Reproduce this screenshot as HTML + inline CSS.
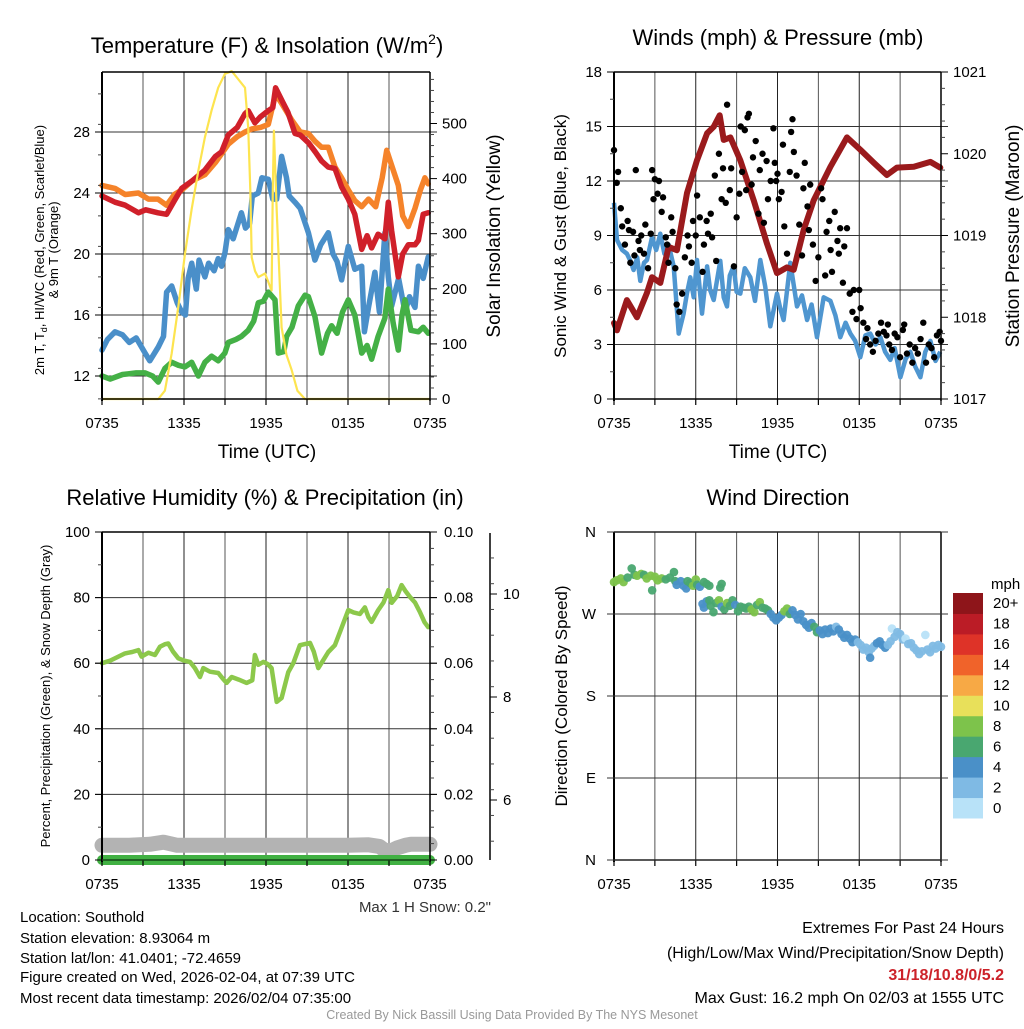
<!DOCTYPE html>
<html><head><meta charset="utf-8">
<style>
html,body{margin:0;padding:0;background:#fff;}
body{width:1024px;height:1024px;overflow:hidden;font-family:"Liberation Sans",sans-serif;}
svg text{font-family:"Liberation Sans",sans-serif;}
</style></head>
<body>
<svg id="chart" width="1024" height="1024" viewBox="0 0 1024 1024" xmlns="http://www.w3.org/2000/svg">
<g>
<text x="267" y="53" font-size="22" text-anchor="middle">Temperature (F) &amp; Insolation (W/m<tspan font-size="14" dy="-9">2</tspan><tspan dy="9">)</tspan></text>
<text transform="translate(44,250) rotate(-90)" font-size="13" text-anchor="middle">2m T, T<tspan font-size="9" dy="3">d</tspan><tspan dy="-3">, HI/WC (Red, Green, Scarlet/Blue)</tspan></text>
<text transform="translate(58,250) rotate(-90)" font-size="13" text-anchor="middle">&amp; 9m T (Orange)</text>
<text transform="translate(500,236) rotate(-90)" font-size="19" text-anchor="middle">Solar Insolation (Yellow)</text>
<text x="267" y="458" font-size="19" text-anchor="middle">Time (UTC)</text>
</g>
<g>
<text x="778" y="45" font-size="22" text-anchor="middle">Winds (mph) &amp; Pressure (mb)</text>
<text transform="translate(566,236) rotate(-90)" font-size="17" text-anchor="middle">Sonic Wind &amp; Gust (Blue, Black)</text>
<text transform="translate(1019,236) rotate(-90)" font-size="19" text-anchor="middle">Station Pressure (Maroon)</text>
<text x="778" y="458" font-size="19" text-anchor="middle">Time (UTC)</text>
</g>
<g>
<text x="265" y="505" font-size="22" text-anchor="middle">Relative Humidity (%) &amp; Precipitation (in)</text>
<text transform="translate(50,696) rotate(-90)" font-size="13" text-anchor="middle">Percent, Precipitation (Green), &amp; Snow Depth (Gray)</text>
<text x="491" y="912" font-size="15" text-anchor="end" fill="#333">Max 1 H Snow: 0.2"</text>
</g>
<g>
<text x="778" y="505" font-size="22" text-anchor="middle">Wind Direction</text>
<text transform="translate(567,696) rotate(-90)" font-size="17" text-anchor="middle">Direction (Colored By Speed)</text>
<text x="991" y="589" font-size="15">mph</text>
</g>
<g font-size="15">
<text x="20" y="922">Location: Southold</text>
<text x="20" y="943">Station elevation: 8.93064 m</text>
<text x="20" y="963">Station lat/lon: 41.0401; -72.4659</text>
<text x="20" y="982">Figure created on Wed, 2026-02-04, at 07:39 UTC</text>
<text x="20" y="1003">Most recent data timestamp: 2026/02/04 07:35:00</text>
</g>
<g font-size="16" text-anchor="end">
<text x="1004" y="933">Extremes For Past 24 Hours</text>
<text x="1004" y="958">(High/Low/Max Wind/Precipitation/Snow Depth)</text>
<text x="1004" y="980" fill="#cc2229" font-weight="bold">31/18/10.8/0/5.2</text>
<text x="1004" y="1003">Max Gust: 16.2 mph On 02/03 at 1555 UTC</text>
</g>
<text x="512" y="1019" font-size="12.5" text-anchor="middle" fill="#999">Created By Nick Bassill Using Data Provided By The NYS Mesonet</text>
</svg>
<script>
// ---------- data ----------
const xTickLabels = ["0735","1335","1935","0135","0735"];
const tempTickLabels = [12,16,20,24,28];
const solarTickLabels = [0,100,200,300,400,500];
const windTickLabels = [0,3,6,9,12,15,18];
const pressTickLabels = [1017,1018,1019,1020,1021];
const rhTickLabels = [0,20,40,60,80,100];
const precipTickLabels = ["0.00","0.02","0.04","0.06","0.08","0.10"];
const snowTickLabels = [6,8,10];
const dirTickLabels = ["N","E","S","W","N"];
const speedBinLabels = ["0","2","4","6","8","10","12","14","16","18","20+"];

const redT = [[0,23.8],[0.95,23.4],[1.7,23.2],[2.66,22.7],[3.2,22.9],[4.1,22.7],[4.73,22.6],[5.3,23.5],[5.83,24.3],[6.6,24.8],[7.53,25.5],[8.3,26.4],[8.75,26.7],[9.24,27.8],[9.9,28.3],[10.46,29.2],[10.7,29.4],[11.19,28.6],[11.6,29.0],[12.17,29.4],[12.5,29.6],[12.7,30.9],[13.2,30.0],[13.6,29.3],[14.12,27.9],[14.5,27.8],[15.1,27.3],[15.6,26.7],[16.07,26.1],[16.56,25.7],[17.05,25.6],[17.53,24.4],[18.02,23.6],[18.5,22.6],[19.0,20.3],[19.4,21.2],[19.73,20.4],[20.2,21.3],[20.7,21.0],[20.95,23.4],[21.2,21.5],[21.68,18.5],[22.0,20.0],[22.41,20.6],[22.9,20.6],[23.15,20.9],[23.5,22.6],[23.87,22.7]];
const orangeT = [[0,24.5],[0.95,24.3],[1.7,23.9],[2.66,24.0],[3.4,23.6],[4.1,23.6],[4.73,23.2],[5.3,23.9],[5.83,24.2],[6.6,24.8],[7.53,25.2],[8.3,26.0],[9.24,27.2],[9.9,27.7],[10.46,28.0],[10.95,28.2],[11.6,28.3],[12.17,28.5],[12.7,30.5],[13.2,29.8],[13.87,28.8],[14.5,28.0],[15.1,27.9],[15.58,27.4],[16.07,27.0],[16.56,27.0],[17.05,25.7],[17.53,25.0],[18.02,24.2],[18.5,23.5],[19.0,23.1],[19.5,23.6],[20.03,23.1],[20.5,25.0],[20.83,26.8],[21.2,25.8],[21.68,24.5],[22.0,22.5],[22.41,21.8],[22.9,23.0],[23.3,24.2],[23.63,25.0],[23.87,24.6]];
const blueT = [[0,13.7],[0.4,14.4],[0.95,14.9],[1.5,14.7],[2.0,14.2],[2.5,14.5],[3.15,13.5],[3.5,13.0],[4.12,13.9],[4.5,14.6],[4.73,17.5],[5.1,17.9],[5.5,16.8],[5.83,16.2],[6.1,16.0],[6.3,18.4],[6.56,19.4],[6.9,17.7],[7.1,19.6],[7.53,18.5],[7.8,19.4],[8.2,18.9],[8.5,19.7],[8.75,19.2],[9.0,20.1],[9.24,21.6],[9.6,21.0],[10.2,22.7],[10.5,21.7],[10.8,22.0],[11.0,23.8],[11.44,24.0],[11.7,25.0],[12.17,24.9],[12.5,23.6],[12.78,23.6],[13.14,26.4],[13.5,25.0],[13.7,23.8],[14.12,23.4],[14.5,23.0],[15.1,21.4],[15.58,19.6],[16.0,20.6],[16.56,21.4],[16.9,20.0],[17.2,19.5],[17.53,18.3],[18.02,20.5],[18.5,19.0],[19.0,19.2],[19.2,14.9],[19.5,16.5],[19.97,18.8],[20.3,16.2],[20.7,21.4],[20.95,18.5],[21.2,16.6],[21.7,18.4],[22.17,16.2],[22.5,17.2],[22.9,16.5],[23.15,19.2],[23.5,18.4],[23.87,19.8]];
const greenT = [[0,12.0],[0.6,11.8],[1.5,12.1],[2.5,12.2],[3.15,12.2],[3.7,12.0],[4.12,11.6],[4.6,12.5],[5.1,12.9],[5.6,12.7],[6.07,12.6],[6.56,12.9],[7.05,12.0],[7.53,12.9],[8.02,13.3],[8.5,13.0],[8.99,13.5],[9.24,14.2],[9.8,14.4],[10.2,14.6],[10.7,15.0],[11.1,15.6],[11.44,16.8],[11.8,16.9],[12.17,17.5],[12.66,17.0],[12.9,13.5],[13.3,13.6],[13.51,14.6],[13.9,15.2],[14.36,16.6],[14.85,17.3],[15.1,17.2],[15.58,15.9],[16.07,13.5],[16.5,14.8],[16.8,15.3],[17.2,14.8],[17.6,16.2],[18.02,17.0],[18.5,16.0],[19.0,13.5],[19.4,14.0],[19.73,13.1],[20.2,14.6],[20.7,15.8],[20.95,17.7],[21.3,15.5],[21.68,13.7],[21.95,16.0],[22.17,17.0],[22.6,15.0],[23.15,14.9],[23.5,15.2],[23.87,14.8]];
const solarH = [0,3.5,4.12,4.6,5.1,5.6,6.07,6.56,7.05,7.53,8.02,8.5,8.99,9.5,9.98,10.46,10.7,10.85,10.95,11.2,11.44,11.93,12.41,12.5,12.58,12.78,13.14,13.5,13.87,14.3,14.85,24];
const solarV = [0,0,0,15,83,170,264,345,415,475,524,565,590,595,580,565,493,380,257,232,221,228,197,380,487,342,130,80,53,15,0,0];

const pressH = [0,0.22,0.95,1.69,2.42,2.79,3.4,4.01,4.62,5.36,6.09,6.83,7.32,7.76,8.05,8.54,9.27,10.25,11.23,11.96,12.7,13.19,13.92,14.66,15.88,17.1,18.08,19.06,20.03,20.77,22.0,23.22,23.95];
const pressV = [1017.93,1017.84,1018.21,1018.0,1018.3,1018.49,1018.42,1018.86,1018.82,1019.52,1019.92,1020.25,1020.33,1020.47,1020.17,1020.2,1019.92,1019.43,1018.9,1018.54,1018.61,1018.58,1019.07,1019.43,1019.84,1020.2,1020.05,1019.89,1019.74,1019.83,1019.84,1019.9,1019.83];
const windH = [0,0.22,0.6,0.95,1.2,1.44,1.7,1.93,2.2,2.42,2.79,3.1,3.4,3.7,4.01,4.38,4.75,5.11,5.35,5.6,5.85,6.09,6.46,6.83,7.05,7.32,7.8,8.05,8.29,8.5,8.78,9.0,9.27,9.6,10.0,10.35,10.74,11.1,11.47,11.96,12.2,12.45,12.94,13.43,13.8,14.17,14.5,14.9,15.39,15.88,16.25,16.61,17.0,17.35,17.7,18.08,18.45,18.81,19.2,19.55,19.9,20.28,20.6,21.02,21.4,21.75,22.1,22.49,22.85,23.22,23.6,23.95];
const windV = [10.8,8.75,8.2,8.0,7.6,7.1,7.8,6.5,7.5,7.65,8.9,8.2,9.1,8.0,8.5,7.3,3.6,4.7,5.8,6.7,5.6,7.65,4.7,7.3,6.0,5.45,7.6,5.6,5.1,6.8,7.3,5.9,5.8,7.2,6.7,5.4,7.65,6.2,4.0,5.8,5.0,4.35,7.5,5.1,5.7,4.35,5.2,3.4,5.6,5.4,4.6,3.4,4.2,3.6,3.2,2.3,3.5,3.6,3.0,3.4,2.6,2.15,2.8,1.2,2.2,2.6,1.8,1.2,2.6,3.2,2.1,2.6];
const gustH = [0,0.2,0.3,0.5,0.6,0.8,1.0,1.1,1.2,1.4,1.5,1.6,1.8,1.9,2.0,2.2,2.3,2.5,2.7,2.8,2.9,3.0,3.2,3.3,3.5,3.6,3.8,3.9,4.0,4.2,4.3,4.5,4.6,4.8,5.0,5.2,5.4,5.5,5.7,5.8,6.0,6.1,6.3,6.5,6.6,6.8,6.9,7.1,7.2,7.4,7.5,7.7,7.9,8.0,8.2,8.3,8.5,8.6,8.8,9.0,9.2,9.3,9.4,9.6,9.7,9.8,9.9,10.1,10.2,10.4,10.6,10.7,10.9,11.0,11.2,11.3,11.5,11.7,11.8,11.9,12.0,12.1,12.3,12.4,12.5,12.7,12.9,13.0,13.1,13.2,13.4,13.6,13.8,13.9,14.0,14.2,14.3,14.4,14.6,14.8,15.0,15.2,15.3,15.5,15.6,15.8,15.9,16.0,16.2,16.4,16.5,16.6,16.8,16.9,17.1,17.3,17.5,17.6,17.8,18.0,18.1,18.3,18.5,18.6,18.8,19.0,19.2,19.4,19.6,19.8,20.0,20.1,20.2,20.4,20.6,20.8,21.0,21.2,21.3,21.5,21.7,21.9,22.1,22.3,22.5,22.7,22.9,23.1,23.3,23.5,23.7,23.9,24.0];
const gustV = [13.7,11.9,12.5,10.5,9.5,8.5,9.8,9.3,7.5,9.2,7.9,12.6,8.7,8.2,9.0,8.0,9.6,7.2,9.1,12.6,11.0,12.1,11.3,12.0,10.3,11.1,8.9,8.5,7.5,10.0,9.2,7.2,5.2,4.8,5.8,7.8,9.0,8.4,7.5,9.8,9.0,11.2,10.0,7.0,8.5,9.8,9.1,10.2,8.9,12.3,7.6,13.5,11.0,12.7,10.8,16.2,11.5,12.7,7.3,10.0,11.3,15.0,12.5,14.8,11.5,15.5,15.7,11.8,13.3,14.2,10.2,12.6,13.5,9.7,13.1,11.0,12.0,14.9,13.0,12.0,12.4,11.0,11.4,14.0,9.5,8.0,12.5,14.7,15.4,13.6,12.3,9.6,7.9,11.6,13.0,10.6,9.3,11.8,8.5,6.5,7.8,11.6,11.0,6.8,9.2,9.8,8.2,7.0,10.3,8.7,8.0,9.4,6.4,8.4,9.4,5.8,4.8,6.0,4.4,6.0,5.0,4.2,3.3,3.9,3.0,2.6,3.2,3.6,4.2,3.7,3.5,4.1,3.0,2.7,3.6,3.4,2.3,3.8,4.1,2.5,3.0,2.0,2.8,2.5,3.3,4.2,2.0,3.0,2.8,2.3,3.5,3.7,3.2];

const rhH = [0,0.6,1.2,1.68,2.2,2.66,2.9,3.4,3.88,4.24,4.6,4.85,5.2,5.58,6.0,6.44,6.8,7.17,7.41,7.9,8.51,8.8,9.12,9.49,10.0,10.58,11.0,11.19,11.44,11.8,12.1,12.41,12.78,13.14,13.63,14.0,14.48,15.22,15.5,15.83,16.2,16.56,17.04,17.5,18.02,18.4,18.87,19.24,19.5,19.73,20.21,20.6,20.95,21.2,21.6,21.92,22.2,22.53,22.9,23.26,23.6,23.87];
const rhV = [60,60.8,62,63,63.4,64,62,63.2,62.5,65,65.8,66,63.5,61.5,60.8,60.4,58.5,55.8,58.5,57.4,57,55.5,54,55.8,55,54,54.8,62.5,59.5,60.4,59.8,58.5,48.2,49.4,57.3,60,65.5,66.2,63.5,58.5,61,63.4,65.5,70.5,76.2,75.5,75,77,74,72.6,76.2,78.5,82.3,78.4,80.5,83.8,82,80.2,78.5,75.6,72.5,71];
const precipH = [0,24];
const precipV = [0,0];
const snowH = [0,2,3.5,4.5,5.5,8,12,16,18,19.5,20.3,20.7,21.2,21.6,22.2,22.6,24];
const snowV = [5.12,5.12,5.14,5.18,5.12,5.12,5.12,5.12,5.12,5.13,5.1,5.02,5.02,5.07,5.12,5.14,5.14];

const dirH = [0,0.2,0.5,0.7,1.0,1.3,1.5,1.7,2.0,2.2,2.4,2.7,2.8,3.0,3.2,3.5,3.8,4.1,4.4,4.5,4.6,4.9,5.1,5.3,5.4,5.6,5.8,6.0,6.1,6.3,6.6,6.8,7.0,7.8,7.9,6.5,6.6,6.8,7.0,7.1,7.3,7.5,7.7,7.9,8.1,8.3,8.5,8.7,8.9,9.1,9.3,9.5,9.7,9.9,10.1,10.3,10.5,10.7,10.9,11.1,11.3,11.5,11.7,11.9,12.1,12.3,12.5,12.7,12.9,13.1,13.3,13.5,13.7,13.9,14.1,14.3,14.5,14.7,14.9,15.1,15.3,15.5,15.7,15.9,16.1,16.3,16.5,16.7,16.9,17.1,17.3,17.5,17.7,17.9,18.1,18.3,18.5,18.7,18.8,18.9,19.1,19.3,19.5,19.7,19.9,20.1,20.3,20.4,20.6,20.8,21.0,21.2,21.4,21.6,21.8,22.0,22.2,22.4,22.6,22.85,23.0,23.2,23.4,23.6,23.8,24.0];
const dirV = [305,307,309,305,310,320,313,312,314,313,309,312,296,311,307,309,308,310,316,306,302,306,301,298,306,304,301,308,302,300,305,303,301,299,303,281,277,284,285,279,272,282,285,278,275,282,279,285,280,273,278,277,276,278,275,272,280,283,277,276,274,270,266,263,266,269,273,276,270,274,269,264,270,262,258,255,260,256,250,252,248,253,249,254,251,256,253,248,244,247,243,239,242,239,236,231,233,228,222,232,235,238,240,236,233,236,240,254,245,250,248,242,243,237,238,233,230,226,229,247,231,228,235,232,236,234];
const dirSpd = [9,8,8,8,7,6.5,7,8,8,7,8,8,7,8,8,8,7,7,7,7,5,5,5,5,7,7,8,8,7,5,7,7,7,7,7,5,5,5,7,7,7,7,8,5,7,8,7,7,5,7,7,7,7,7,8,8,7,8,7,7,7,5,5,5,5,5,8,8,7,5,5,5,5,5,5,5,5,7,7,5,5,5,5,5,5,3,5,5,5,5,5,5,5,3,3,3,3,3,5,3,3,5,5,5,5,3,3,1,3,3,3,3,1,3,3,3,3,3,3,1,3,3,3,3,3,3];
const speedColors = ["#b8e2f8","#7fbae4","#4a90c8","#49a770","#7dc34b","#e8e05a","#f7a945","#f0632a","#de3328","#bb1c26","#8e151a"];

// ---------- helpers ----------
const NS = "http://www.w3.org/2000/svg";
const svg = document.getElementById('chart');
function mk(tag, attrs, parent){ const e=document.createElementNS(NS,tag); for(const k in attrs) e.setAttribute(k,attrs[k]); (parent||svg).appendChild(e); return e; }
function lin(d0,d1,r0,r1){ return v => r0 + (v-d0)*(r1-r0)/(d1-d0); }

const P1 = {x0:102,x1:430,y0:72,y1:399};
const P2 = {x0:614,x1:941,y0:72,y1:399};
const P3 = {x0:102,x1:430,y0:532,y1:860};
const P4 = {x0:614,x1:941,y0:532,y1:860};

function grid(P, yGridVals, yScale, name){
  const g = mk('g',{});
  
  
  const xs = lin(0,24,P.x0,P.x1);
  for(let h=3; h<24; h+=3){
    const l = mk('line',{x1:xs(h),x2:xs(h),y1:P.y0,y2:P.y1,stroke:(h%6? '#555':'#222'),'stroke-width':1},g);
    
    
  }
  yGridVals.forEach(v=>{
    const y=yScale(v);
    const l = mk('line',{x1:P.x0-7,x2:P.x1+7,y1:y,y2:y,stroke:'#333','stroke-width':1},g);
    
    
  });
}
function frame(P,name){
  const g = mk('g',{});
  
  
  mk('line',{x1:P.x0,x2:P.x0,y1:P.y0,y2:P.y1+2,stroke:'#000','stroke-width':2},g);
  mk('line',{x1:P.x1,x2:P.x1,y1:P.y0,y2:P.y1+2,stroke:'#000','stroke-width':1.5},g);
  mk('line',{x1:P.x0,x2:P.x1,y1:P.y0,y2:P.y0,stroke:'#000','stroke-width':1.5},g);
  mk('line',{x1:P.x0,x2:P.x1,y1:P.y1,y2:P.y1,stroke:'#000','stroke-width':1.5},g);
  const xs = lin(0,24,P.x0,P.x1);
  for(let h=0; h<=24; h+=3) mk('line',{x1:xs(h),x2:xs(h),y1:P.y1,y2:P.y1+6,stroke:'#000','stroke-width':1.2},g);
  xTickLabels.forEach((t,i)=>{
    const e = mk('text',{x:xs(i*6),y:P.y1+29,'font-size':15,'text-anchor':'middle'},g);
    e.textContent=t;
    
    
  });
}
function leftTicks(P, vals, scale, minorVals, labels){
  vals.forEach((v,i)=>{
    const y=scale(v);
    mk('line',{x1:P.x0-7,x2:P.x0,y1:y,y2:y,stroke:'#000'});
    const e = mk('text',{x:P.x0-12,y:y+5,'font-size':15,'text-anchor':'end'});
    e.textContent = labels ? labels[i] : v;
    
    
  });
  minorVals.forEach(v=>{ const y=scale(v); mk('line',{x1:P.x0-4,x2:P.x0,y1:y,y2:y,stroke:'#444'}); });
}
function rightTicks(x, vals, scale, minorVals, labels, off){
  vals.forEach((v,i)=>{
    const y=scale(v);
    mk('line',{x1:x,x2:x+7,y1:y,y2:y,stroke:'#000'});
    const e = mk('text',{x:x+(off||12),y:y+5,'font-size':15});
    e.textContent = labels ? labels[i] : v;
    
    
  });
  minorVals.forEach(v=>{ const y=scale(v); mk('line',{x1:x,x2:x+4,y1:y,y2:y,stroke:'#444'}); });
}
function pathFrom(H,V,xs,ys){ return H.map((h,i)=>(i?'L':'M')+xs(h).toFixed(1)+','+ys(V[i]).toFixed(1)).join(''); }
function pairsPath(arr,xs,ys){ return arr.map((p,i)=>(i?'L':'M')+xs(p[0]).toFixed(1)+','+ys(p[1]).toFixed(1)).join(''); }
function range(a,b,s){ const r=[]; for(let v=a; v<=b+1e-9; v+=s) r.push(+v.toFixed(4)); return r; }

// ---------- Panel 1 ----------
{
  const xs = lin(0,24,P1.x0,P1.x1);
  const yT = lin(12,28,376,132);
  const yS = lin(0,500,399,123.5);
  grid(P1, [12,16,20,24,28], yT, 'temperature');
  const defs = mk('defs',{});
  const cp = mk('clipPath',{id:'c1'},defs); mk('rect',{x:P1.x0-6,y:P1.y0-2,width:P1.x1-P1.x0+12,height:P1.y1-P1.y0+4},cp);
  const g = mk('g',{'clip-path':'url(#c1)'});
  const series = [[blueT,'#4a8fc9','blue-temperature-line'],[greenT,'#44b046','green-temperature-line'],[orangeT,'#f5832a','orange-9m-temperature-line'],[redT,'#d0202a','red-2m-temperature-line']];
  series.forEach(s=>{
    const p = mk('path',{d:pairsPath(s[0],xs,yT),fill:'none',stroke:s[1],'stroke-width':5.5,'stroke-linejoin':'round','stroke-linecap':'round'},g);
    
    
  });
  const sp = mk('path',{d:pathFrom(solarH,solarV,xs,yS),fill:'none',stroke:'#fde44f','stroke-width':2.2,'stroke-linejoin':'round'},g);
  
  
  frame(P1,'temperature');
  leftTicks(P1, tempTickLabels, yT, range(10.5,32,2).filter(v=>v%4!==0 && v>=10.5), null);
  rightTicks(P1.x1, solarTickLabels, yS, range(20,580,20).filter(v=>v%100!==0), null);
}
// ---------- Panel 2 ----------
{
  const xs = lin(0,24,P2.x0,P2.x1);
  const yW = lin(0,18,399,72);
  const yP = lin(1017,1021,399,72);
  grid(P2, [3,6,9,12,15], yW, 'winds');
  const defs = mk('defs',{});
  const cp = mk('clipPath',{id:'c2'},defs); mk('rect',{x:P2.x0-6,y:P2.y0-2,width:P2.x1-P2.x0+12,height:P2.y1-P2.y0+4},cp);
  const g = mk('g',{'clip-path':'url(#c2)'});
  const bp = mk('path',{d:pathFrom(windH,windV,xs,yW),fill:'none',stroke:'#4f96d0','stroke-width':4.5,'stroke-linejoin':'round'},g);
  
  
  const pp = mk('path',{d:pathFrom(pressH,pressV,xs,yP),fill:'none',stroke:'#9a1a1c','stroke-width':6,'stroke-linejoin':'round','stroke-linecap':'round'},g);
  
  
  gustH.forEach((h,i)=>{
    const c = mk('circle',{cx:xs(h),cy:yW(gustV[i]),r:3.2,fill:'#000'},g);
    
    
  });
  frame(P2,'winds');
  leftTicks(P2, windTickLabels, yW, range(1.5,16.5,3), null);
  rightTicks(P2.x1, pressTickLabels, yP, range(1017.2,1020.8,0.2).filter(v=>Math.abs(v-Math.round(v))>0.01), null);
}
// ---------- Panel 3 ----------
{
  const xs = lin(0,24,P3.x0,P3.x1);
  const yR = lin(0,100,860,532);
  const yPr = lin(0,0.1,860,532);
  const ySn = lin(6,10,800,594);
  grid(P3, [20,40,60,80], yR, 'humidity');
  const snow = mk('path',{d:pathFrom(snowH,snowV,xs,ySn),fill:'none',stroke:'#b3b3b3','stroke-width':15,'stroke-linecap':'round','stroke-linejoin':'round'});
  
  
  const pr = mk('path',{d:pathFrom(precipH,precipV,xs,yPr),fill:'none',stroke:'#41b143','stroke-width':10,'stroke-linecap':'round'});
  
  
  const rh = mk('path',{d:pathFrom(rhH,rhV,xs,yR),fill:'none',stroke:'#8cc84b','stroke-width':4.5,'stroke-linejoin':'round','stroke-linecap':'round'});
  
  
  frame(P3,'humidity');
  mk('line',{x1:P3.x0,x2:P3.x1,y1:P3.y1,y2:P3.y1,stroke:'#1e6b22','stroke-width':1});
  leftTicks(P3, rhTickLabels, yR, range(10,90,20), null);
  rightTicks(P3.x1, [0,0.02,0.04,0.06,0.08,0.1], yPr, range(0.005,0.095,0.005).filter(v=>Math.abs(v*50-Math.round(v*50))>0.01), precipTickLabels, 14);
  const sx = 490;
  mk('line',{x1:sx,x2:sx,y1:533,y2:860,stroke:'#000','stroke-width':1.5});
  snowTickLabels.forEach(v=>{
    const y=ySn(v);
    mk('line',{x1:sx,x2:sx+7,y1:y,y2:y,stroke:'#000'});
    const e=mk('text',{x:sx+13,y:y+5,'font-size':15}); e.textContent=v;
    
    
  });
  range(5.2,11,0.5).filter(v=>v%2!==0).forEach(v=>{ const y=ySn(v); if(y>533&&y<860) mk('line',{x1:sx,x2:sx+4,y1:y,y2:y,stroke:'#444'}); });
}
// ---------- Panel 4 ----------
{
  const xs = lin(0,24,P4.x0,P4.x1);
  const yD = lin(0,360,860,532);
  grid(P4, [90,180,270], yD, 'direction');
  frame(P4,'direction');
  dirTickLabels.forEach((t,i)=>{
    const y=yD(i*90);
    mk('line',{x1:P4.x0-7,x2:P4.x0,y1:y,y2:y,stroke:'#000'});
    mk('line',{x1:P4.x0-7,x2:P4.x1+7,y1:y,y2:y,stroke:'#333'});
    const e=mk('text',{x:P4.x0-18,y:y+5,'font-size':15,'text-anchor':'end'}); e.textContent=t;
    
    
  });
  const g = mk('g',{});
  
  
  dirH.forEach((h,i)=>{
    const bin = Math.min(10, Math.floor(dirSpd[i]/2));
    const c = mk('circle',{cx:xs(h),cy:yD(dirV[i]),r:4.3,fill:speedColors[bin],'fill-opacity':0.95},g);
    
    
  });
  const cb = mk('g',{});
  
  
  const top=593, bot=818, n=speedBinLabels.length, bh=(bot-top)/n;
  speedBinLabels.forEach((lab,i)=>{
    const y = bot - (i+1)*bh;
    const r = mk('rect',{x:953,y:y,width:30,height:bh+0.5,fill:speedColors[i]},cb);
    
    
    const t = mk('text',{x:993,y:y+bh/2+5,'font-size':15},cb); t.textContent=lab;
    
    
  });
}
</script>
</body></html>
